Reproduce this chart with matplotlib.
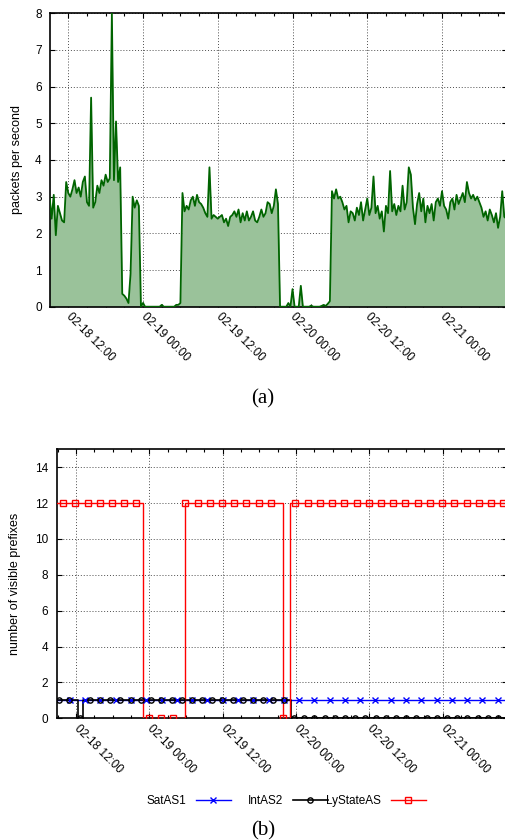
import matplotlib
matplotlib.use("Agg")
import matplotlib.pyplot as plt
import matplotlib.dates as mdates
from matplotlib.lines import Line2D
import numpy as np

plt.rcParams['font.family'] = ['Liberation Sans', 'DejaVu Sans']

# ---------------- data ----------------
# (a) packets per second, one sample every 20 minutes starting 2011-02-18 09:00
pps_start = np.datetime64('2011-02-18T09:00')
pps_step_min = 20
pps_values = [
    3.0, 2.4, 3.05, 1.95, 2.75, 2.55, 2.35, 2.3, 3.4, 3.1,
    3.0, 3.2, 3.45, 3.1, 3.25, 3.0, 3.4, 3.55, 2.85, 2.75,
    5.7, 2.7, 2.85, 3.3, 3.1, 3.45, 3.3, 3.6, 3.4, 3.5,
    8.0, 3.45, 5.05, 3.4, 3.8, 0.35, 0.3, 0.22, 0.1, 0.9,
    3.0, 2.7, 2.9, 2.75, 0.0,
    0.1, 0, 0, 0, 0, 0, 0, 0, 0, 0.05,
    0, 0, 0, 0, 0, 0, 0.05, 0.05, 0.1, 3.1,
    2.6, 2.75, 2.65, 2.9, 3.0, 2.75, 3.05, 2.85, 2.8, 2.7,
    2.55, 2.45, 3.8, 2.4, 2.5, 2.45, 2.4, 2.45, 2.5, 2.3,
    2.4, 2.2, 2.45, 2.5,
    2.6, 2.45, 2.65, 2.3, 2.55, 2.35, 2.6, 2.35, 2.45, 2.6,
    2.35, 2.3, 2.45, 2.65, 2.45, 2.55, 2.85, 2.8, 2.55, 2.75,
    3.2, 2.8, 0.0, 0, 0, 0, 0.1, 0, 0.48, 0,
    0, 0, 0.57, 0, 0, 0, 0, 0.03, 0, 0,
    0, 0,
    0.02, 0.05, 0.02, 0.08, 0.15, 3.15, 2.95, 3.2, 2.95, 3.0,
    2.85, 2.65, 2.75, 2.3, 2.6, 2.55, 2.35, 2.7, 2.5, 2.85,
    2.35, 2.65, 2.95, 2.5, 2.7, 3.55, 2.55, 2.75, 2.4, 2.6,
    2.05, 2.75, 2.55, 3.7, 2.6, 2.8, 2.5, 2.75, 2.6, 3.3,
    2.65, 2.85, 3.8, 3.6,
    2.7, 2.25, 2.8, 3.1, 2.6, 2.95, 2.3, 2.75, 2.55, 2.8,
    2.35, 2.85, 2.95, 2.75, 3.15, 2.75, 2.65, 2.4, 2.85, 2.95,
    2.65, 3.05, 2.8, 2.95, 3.1, 2.85, 3.4, 3.1, 2.95, 3.05,
    2.9, 3.0, 2.85, 2.7, 2.45, 2.6, 2.35, 2.65, 2.5, 2.3,
    2.55, 2.15, 2.45, 3.15, 2.45, 2.4,
]

# (b) number of visible prefixes: step changes (hours after 2011-02-18 09:00, value)
sat_change_h = [-1.0]
sat_values = [1]
int_change_h = [-1.0, 3.4, 4.15, 38.18]
int_values = [1, 0, 1, 0]
ly_change_h = [-1.0, 14.0, 20.85, 36.85, 38.0]
ly_values = [12, 0, 12, 0, 12]
series_names = ['SatAS1', 'IntAS2', 'LyStateAS']

tick_times = ['2011-02-18T12:00', '2011-02-19T00:00', '2011-02-19T12:00',
              '2011-02-20T00:00', '2011-02-20T12:00', '2011-02-21T00:00']
tick_labels = ['02-18 12:00', '02-19 00:00', '02-19 12:00',
               '02-20 00:00', '02-20 12:00', '02-21 00:00']

# ---------------- figure ----------------
W, H = 506, 840
fig = plt.figure(figsize=(W / 100, H / 100), dpi=100)

def hours(h):
    return pps_start + np.array(np.round(np.asarray(h) * 60), dtype='timedelta64[m]')

ticks_dt = [np.datetime64(t) for t in tick_times]
grid_kw = dict(color='0.3', linestyle=(0, (1, 2)), linewidth=0.7)
FS = 8.5

def style_axes(ax, xlim_h):
    ax.set_xlim(hours(xlim_h[0]), hours(xlim_h[1]))
    ax.set_xticks(ticks_dt)
    ax.set_xticklabels(tick_labels, rotation=-45, ha='left', va='center',
                       rotation_mode='anchor', fontsize=FS)
    ax.xaxis.set_minor_locator(mdates.HourLocator(byhour=range(0, 24, 3)))
    ax.tick_params(which='both', direction='in', top=True, right=True)
    ax.tick_params(which='major', length=3.5, width=0.8, labelsize=FS)
    ax.tick_params(which='minor', length=2.5, width=0.8)
    ax.tick_params(axis='x', which='major', pad=6)
    ax.tick_params(axis='y', which='major', pad=6)
    ax.grid(True, which='major', **grid_kw)
    for s in ax.spines.values():
        s.set_linewidth(1.2)
    ax.set_axisbelow(True)

# ---- (a) ----
ax1 = fig.add_axes([50 / W, 1 - 306.7 / H, (507 - 50) / W, (306.7 - 13.3) / H])
t = pps_start + np.arange(len(pps_values)) * np.timedelta64(pps_step_min, 'm')
v = np.array(pps_values, dtype=float)
ax1.fill_between(t, 0, v, color='#9ac29a', linewidth=0, zorder=2)
ax1.plot(t, v, color='#006400', linewidth=1.3, zorder=3)
ax1.set_ylim(0, 8)
ax1.set_yticks(range(0, 9))
style_axes(ax1, (0.06, 73.44))
ax1.set_ylabel('packets per second', fontsize=9)
ax1.yaxis.set_label_coords((23 - 50) / 457, 0.5)

# ---- (b) ----
ax2 = fig.add_axes([56.7 / W, 1 - 718.3 / H, (507 - 56.7) / W, (718.3 - 449.3) / H])
xmax_h = 75.0
spec = [
    (sat_change_h, sat_values, '#0000ff', 'x', 2.0, 2.5, 1.0),
    (int_change_h, int_values, 'black', 'o', 0.27, 1.669, 1.2),
    (ly_change_h, ly_values, '#ff0000', 's', 0.9, 2.0, 1.0),
]
handles = []
for (ch, vals, col, mk, m0, dm, lw), name in zip(spec, series_names):
    ch = np.asarray(ch, dtype=float)
    vals = np.asarray(vals, dtype=float)
    xs = np.append(ch, xmax_h)
    ys = np.append(vals, vals[-1])
    ax2.step(hours(xs), ys, where='post', color=col, linewidth=lw, zorder=3)
    # markers every dm hours (gnuplot-style point interval)
    mh = np.arange(m0, xmax_h, dm)
    mv = vals[np.searchsorted(ch, mh, side='right') - 1]
    ax2.plot(hours(mh), mv, linestyle='none', marker=mk, markersize=3.8,
             markerfacecolor='none', markeredgecolor=col, markeredgewidth=1.0,
             zorder=4)
    handles.append(Line2D([], [], color=col, linewidth=lw, marker=mk,
                          markersize=3.8, markerfacecolor='none',
                          markeredgecolor=col, markeredgewidth=1.0))
ax2.set_ylim(0, 15)
ax2.set_yticks(range(0, 15, 2))
style_axes(ax2, (-0.158, 73.52))
ax2.set_ylabel('number of visible prefixes', fontsize=9)
ax2.yaxis.set_label_coords((21 - 56.7) / 450.3, 0.5)

# legend: gnuplot-like fixed columns, text right-justified before the sample
for h, name, xend in zip(handles, series_names, [231, 328, 426]):
    fig.legend([h], [name], loc='center right', bbox_to_anchor=(xend / W, 1 - 801 / H),
               frameon=False, markerfirst=False, handlelength=3.0, handletextpad=0.8,
               borderpad=0, borderaxespad=0, fontsize=FS, numpoints=1)

fig.text(263 / W, 1 - 399 / H, '(a)', ha='center', va='center',
         family=['Liberation Serif', 'DejaVu Serif'], fontsize=15)
fig.text(263 / W, 1 - 831 / H, '(b)', ha='center', va='center',
         family=['Liberation Serif', 'DejaVu Serif'], fontsize=15)

fig.savefig('out.png', dpi=100)
